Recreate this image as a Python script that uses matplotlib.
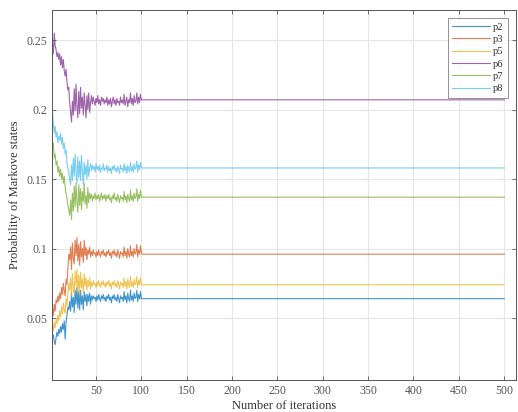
import matplotlib
matplotlib.use("Agg")
import matplotlib.pyplot as plt
import numpy as np

plt.rcParams['font.family'] = ['Liberation Serif', 'DejaVu Serif']

labels = ["p2", "p3", "p5", "p6", "p7", "p8"]
colors = ["#0072BD", "#D95319", "#EDB120", "#7E2F8E", "#77AC30", "#4DBEEE"]

# transient values for iterations 1..100
p2_t = [0.041, 0.036, 0.038, 0.033, 0.031, 0.036, 0.040, 0.037, 0.042, 0.039,
        0.044, 0.040, 0.046, 0.042, 0.048, 0.035, 0.047, 0.052, 0.058, 0.056,
        0.062, 0.055, 0.068, 0.058, 0.065, 0.054, 0.070, 0.060, 0.072, 0.057,
        0.069, 0.056, 0.070, 0.060, 0.066, 0.056, 0.069, 0.062, 0.067, 0.059,
        0.067, 0.062, 0.068, 0.060, 0.066, 0.063, 0.066, 0.064, 0.065, 0.062,
        0.066, 0.063, 0.067, 0.064, 0.062, 0.066, 0.064, 0.067, 0.063, 0.065,
        0.062, 0.066, 0.064, 0.067, 0.063, 0.065, 0.061, 0.066, 0.064, 0.067,
        0.063, 0.065, 0.062, 0.067, 0.064, 0.061, 0.066, 0.064, 0.065, 0.062,
        0.069, 0.063, 0.066, 0.061, 0.068, 0.064, 0.062, 0.070, 0.063, 0.066,
        0.062, 0.068, 0.064, 0.065, 0.070, 0.062, 0.067, 0.064, 0.069, 0.064]
p3_t = [0.069, 0.058, 0.052, 0.060, 0.055, 0.063, 0.061, 0.066, 0.062, 0.068,
        0.064, 0.072, 0.067, 0.075, 0.070, 0.066, 0.078, 0.074, 0.086, 0.096,
        0.092, 0.101, 0.085, 0.104, 0.093, 0.089, 0.106, 0.095, 0.108, 0.091,
        0.103, 0.088, 0.105, 0.094, 0.100, 0.090, 0.106, 0.095, 0.101, 0.092,
        0.099, 0.096, 0.101, 0.094, 0.098, 0.095, 0.099, 0.096, 0.097, 0.094,
        0.098, 0.095, 0.099, 0.096, 0.094, 0.098, 0.096, 0.099, 0.095, 0.097,
        0.094, 0.098, 0.096, 0.099, 0.095, 0.097, 0.093, 0.098, 0.096, 0.099,
        0.095, 0.097, 0.094, 0.099, 0.096, 0.093, 0.098, 0.096, 0.097, 0.094,
        0.101, 0.095, 0.098, 0.093, 0.100, 0.096, 0.094, 0.102, 0.095, 0.098,
        0.094, 0.100, 0.096, 0.097, 0.103, 0.094, 0.099, 0.096, 0.102, 0.097]
p5_t = [0.050, 0.045, 0.041, 0.047, 0.043, 0.049, 0.046, 0.052, 0.048, 0.055,
        0.051, 0.058, 0.053, 0.061, 0.056, 0.054, 0.064, 0.059, 0.068, 0.075,
        0.070, 0.079, 0.066, 0.082, 0.071, 0.068, 0.084, 0.073, 0.085, 0.069,
        0.081, 0.067, 0.083, 0.072, 0.078, 0.068, 0.082, 0.073, 0.079, 0.070,
        0.077, 0.073, 0.079, 0.071, 0.076, 0.073, 0.077, 0.074, 0.075, 0.072,
        0.076, 0.073, 0.077, 0.074, 0.072, 0.076, 0.074, 0.077, 0.073, 0.075,
        0.072, 0.076, 0.074, 0.077, 0.073, 0.075, 0.071, 0.076, 0.074, 0.077,
        0.073, 0.075, 0.072, 0.077, 0.074, 0.071, 0.076, 0.074, 0.075, 0.072,
        0.079, 0.073, 0.076, 0.071, 0.078, 0.074, 0.072, 0.080, 0.073, 0.076,
        0.072, 0.078, 0.074, 0.075, 0.080, 0.072, 0.077, 0.074, 0.079, 0.074]
p6_t = [0.233, 0.248, 0.240, 0.255, 0.246, 0.243, 0.238, 0.241, 0.236, 0.240,
        0.232, 0.238, 0.230, 0.236, 0.228, 0.224, 0.229, 0.220, 0.214, 0.216,
        0.205, 0.198, 0.191, 0.206, 0.196, 0.215, 0.199, 0.218, 0.202, 0.194,
        0.213, 0.197, 0.216, 0.201, 0.209, 0.196, 0.212, 0.203, 0.194, 0.210,
        0.200, 0.212, 0.198, 0.205, 0.210, 0.204, 0.209, 0.206, 0.203, 0.208,
        0.205, 0.210, 0.204, 0.207, 0.203, 0.209, 0.206, 0.208, 0.204, 0.207,
        0.205, 0.209, 0.203, 0.207, 0.204, 0.208, 0.202, 0.206, 0.209, 0.204,
        0.207, 0.203, 0.208, 0.205, 0.206, 0.203, 0.209, 0.205, 0.207, 0.204,
        0.211, 0.203, 0.206, 0.209, 0.202, 0.207, 0.205, 0.212, 0.204, 0.208,
        0.203, 0.210, 0.205, 0.206, 0.212, 0.204, 0.209, 0.205, 0.211, 0.207]
p7_t = [0.158, 0.170, 0.176, 0.165, 0.168, 0.160, 0.163, 0.155, 0.159, 0.152,
        0.157, 0.150, 0.154, 0.147, 0.152, 0.144, 0.140, 0.136, 0.131, 0.128,
        0.124, 0.135, 0.121, 0.140, 0.127, 0.145, 0.130, 0.147, 0.133, 0.126,
        0.146, 0.131, 0.143, 0.128, 0.141, 0.134, 0.147, 0.132, 0.138, 0.129,
        0.144, 0.133, 0.140, 0.136, 0.139, 0.134, 0.138, 0.136, 0.140, 0.135,
        0.138, 0.136, 0.139, 0.134, 0.137, 0.140, 0.135, 0.138, 0.136, 0.139,
        0.134, 0.138, 0.136, 0.139, 0.135, 0.137, 0.133, 0.138, 0.136, 0.140,
        0.135, 0.137, 0.134, 0.139, 0.136, 0.133, 0.138, 0.136, 0.137, 0.134,
        0.141, 0.135, 0.138, 0.133, 0.139, 0.136, 0.134, 0.142, 0.135, 0.138,
        0.134, 0.140, 0.136, 0.137, 0.143, 0.134, 0.139, 0.136, 0.142, 0.137]
p8_t = [0.186, 0.199, 0.190, 0.183, 0.188, 0.180, 0.184, 0.176, 0.181, 0.178,
        0.183, 0.175, 0.180, 0.172, 0.176, 0.168, 0.171, 0.162, 0.158, 0.155,
        0.150, 0.146, 0.160, 0.149, 0.165, 0.152, 0.168, 0.154, 0.147, 0.166,
        0.151, 0.163, 0.149, 0.167, 0.155, 0.146, 0.162, 0.153, 0.160, 0.150,
        0.164, 0.152, 0.158, 0.161, 0.156, 0.160, 0.157, 0.159, 0.155, 0.161,
        0.157, 0.159, 0.156, 0.160, 0.155, 0.158, 0.157, 0.161, 0.156, 0.158,
        0.157, 0.160, 0.155, 0.159, 0.156, 0.158, 0.154, 0.159, 0.157, 0.160,
        0.156, 0.158, 0.155, 0.159, 0.157, 0.154, 0.160, 0.157, 0.158, 0.155,
        0.161, 0.156, 0.159, 0.154, 0.160, 0.157, 0.155, 0.162, 0.156, 0.159,
        0.155, 0.161, 0.157, 0.158, 0.163, 0.155, 0.160, 0.157, 0.162, 0.158]

# steady-state values for iterations 101..500
steady = [0.064, 0.096, 0.074, 0.207, 0.137, 0.158]
n_iter = 500

transients = [p2_t, p3_t, p5_t, p6_t, p7_t, p8_t]
x = np.arange(1, n_iter + 1)

fig = plt.figure(figsize=(5.18, 4.12), dpi=100)
ax = fig.add_axes([52/518, 1 - 380/412, (516 - 52)/518, (380 - 10)/412])

for lab, col, tr, st in zip(labels, colors, transients, steady):
    y = np.array(tr + [st] * (n_iter - len(tr)))
    ax.plot(x, y, color=col, lw=0.8, alpha=0.75, label=lab)

ax.set_xlim(1.5, 513)
ax.set_ylim(0.0055, 0.2716)
ax.set_xticks(np.arange(50, 501, 50))
ax.set_yticks([0.05, 0.1, 0.15, 0.2, 0.25])
ax.set_yticklabels(["0.05", "0.1", "0.15", "0.2", "0.25"])
ax.grid(True, color="#e6e6e6", lw=0.8)
ax.set_axisbelow(True)
ax.tick_params(direction="in", length=3, width=0.6, colors="#555555",
               labelsize=8.5, top=True, right=True, labeltop=False, labelright=False)
for s in ax.spines.values():
    s.set_color("#555555")
    s.set_linewidth(0.7)

ax.set_xlabel("Number of iterations", fontsize=9, color="#333333", labelpad=2)
ax.set_ylabel("Probability of Markove states", fontsize=9, color="#333333", labelpad=4)

leg = ax.legend(loc="upper right", fontsize=7.6, frameon=True, fancybox=False,
                edgecolor="#777777", handlelength=3.6, handletextpad=0.3,
                labelspacing=0.28, borderpad=0.4, borderaxespad=0.0,
                bbox_to_anchor=(0.983, 0.978))
leg.get_frame().set_linewidth(0.7)
for t in leg.get_texts():
    t.set_color("#333333")

fig.savefig("out.png", dpi=100)
